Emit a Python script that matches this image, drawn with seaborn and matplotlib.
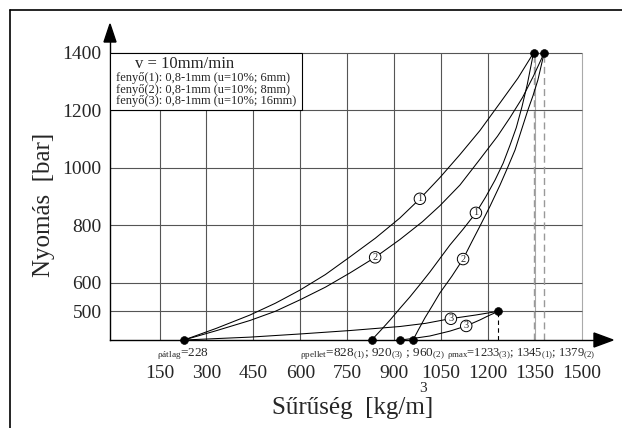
import matplotlib.pyplot as plt
import matplotlib.patches as mpatches
import matplotlib.lines as mlines
import numpy as np
import pandas as pd
import seaborn as sns

# values: density [kg/m3] vs pressure [bar]
load1_x = [228, 330, 439, 520, 599, 680, 759, 840, 918, 982, 1046, 1110, 1174, 1238, 1295, 1345]
load1_y = [400, 440, 487, 528, 574, 628, 690, 755, 825, 892, 966, 1046, 1130, 1226, 1312, 1400]
load2_x = [228, 330, 439, 520, 599, 680, 759, 839, 918, 990, 1046, 1110, 1174, 1230, 1270, 1310, 1345, 1379]
load2_y = [400, 432, 468, 500, 540, 584, 634, 688, 750, 812, 868, 940, 1030, 1110, 1175, 1245, 1320, 1400]
unload1_x = [1345, 1325, 1308, 1290, 1270, 1248, 1222, 1192, 1161, 1120, 1078, 1046, 1014, 982, 950, 918, 887, 858, 828]
unload1_y = [1400, 1290, 1212, 1140, 1079, 1016, 957, 898, 843, 786, 731, 684, 637, 593, 550, 510, 470, 435, 400]
unload2_x = [1379, 1359, 1343, 1327, 1306, 1286, 1262, 1238, 1206, 1174, 1146, 1120, 1084, 1046, 1022, 998, 978, 960]
unload2_y = [1400, 1306, 1250, 1201, 1130, 1062, 1000, 940, 866, 797, 738, 682, 622, 564, 520, 477, 437, 400]
load3_x = [228, 439, 599, 759, 918, 1000, 1078, 1160, 1233]
load3_y = [400, 410, 421, 433, 447, 458, 474, 487, 500]
unload3_x = [1233, 1200, 1174, 1130, 1078, 1014, 957, 920]
unload3_y = [500, 484, 470, 449, 431, 414, 405, 400]

dot_x = [228, 828, 920, 960, 1233, 1345, 1379]
dot_y = [400, 400, 400, 400, 500, 1400, 1400]

mark_x = [982, 839, 1161, 1120, 1081, 1130]
mark_y = [892, 688, 843, 682, 474, 449]
mark_txt = ['1', '2', '1', '2', '3', '3']

x_ticks = [150, 300, 450, 600, 750, 900, 1050, 1200, 1350, 1500]
y_ticks = [500, 600, 800, 1000, 1200, 1400]

legend_title = 'v = 10mm/min'
legend_lines = ['fenyő(1): 0,8-1mm (u=10%; 6mm)',
                'fenyő(2): 0,8-1mm (u=10%; 8mm)',
                'fenyő(3): 0,8-1mm (u=10%; 16mm)']

sns.set_style('white')
plt.rcParams['font.family'] = ['Liberation Serif', 'DejaVu Serif']
plt.rcParams['mathtext.fontset'] = 'custom'
plt.rcParams['mathtext.rm'] = 'Liberation Serif'
plt.rcParams['mathtext.it'] = 'Liberation Serif:italic'

W, H = 622, 428
fig = plt.figure(figsize=(W / 100, H / 100), dpi=100)


def fx(px):
    return px / W


def fy(py):
    return 1 - py / H


ax = fig.add_axes([fx(110), fy(340), (595 - 110) / W, (340 - 42) / H])
ax.set_xlim(-8.2, 1541.5)
ax.set_ylim(400, 1438.3)

# grid
grid_col = '#555555'
for xv in x_ticks:
    c = '#aaaaaa' if xv in (1350, 1500) else grid_col
    ax.vlines(xv, 400, 1400, color=c, lw=0.8, zorder=1)
for yv in y_ticks:
    ax.hlines(yv, -8.2, 1500, color=grid_col, lw=0.8, zorder=1)

# dashed drop lines
ax.vlines([1345, 1379], 400, 1400, color='#999999', lw=1.0, linestyles=(0, (5, 3)), zorder=2)
ax.vlines(1233, 400, 500, color='black', lw=0.8, linestyles=(0, (4, 3)), zorder=2)

frames = []
for name, xs, ys in [('load1', load1_x, load1_y), ('load2', load2_x, load2_y),
                     ('unload1', unload1_x, unload1_y), ('unload2', unload2_x, unload2_y),
                     ('load3', load3_x, load3_y), ('unload3', unload3_x, unload3_y)]:
    frames.append(pd.DataFrame({'x': xs, 'y': ys, 'curve': name}))
df = pd.concat(frames, ignore_index=True)

sns.lineplot(data=df, x='x', y='y', units='curve', estimator=None, sort=False,
             color='black', lw=0.75, ax=ax, legend=False, zorder=3)
sns.scatterplot(x=dot_x, y=dot_y, color='black', s=32, edgecolor='black',
                ax=ax, zorder=6, clip_on=False, legend=False)

for xv, yv, t in zip(mark_x, mark_y, mark_txt):
    ax.text(xv, yv, t, ha='center', va='center', fontsize=7.5, zorder=5,
            bbox=dict(boxstyle='circle,pad=0.12', fc='white', ec='black', lw=0.7))

# legend box
ax.add_patch(mpatches.Rectangle((-8.2, 1200), 613, 200, fc='white', ec='black',
                                lw=0.8, zorder=4))
fig.text(fx(135), fy(64), legend_title, fontsize=12, va='center', ha='left')
for i, line in enumerate(legend_lines):
    fig.text(fx(116), fy(78 + 11.5 * i), line, fontsize=9, va='center', ha='left')

ax.set_xticks(x_ticks)
ax.set_yticks(y_ticks)
ax.tick_params(axis='x', length=0, pad=18, labelsize=14)
ax.tick_params(axis='y', length=0, pad=6, labelsize=14)
ax.set_xlabel('')
ax.set_ylabel('')
for s in ['top', 'right']:
    ax.spines[s].set_visible(False)
for s in ['left', 'bottom']:
    ax.spines[s].set_color('black')
    ax.spines[s].set_linewidth(1.0)

# axis arrows
fig.add_artist(mpatches.Polygon([[fx(110), fy(24)], [fx(104), fy(42)], [fx(116), fy(42)]],
                                closed=True, fc='black', ec='black', transform=fig.transFigure))
fig.add_artist(mpatches.Polygon([[fx(613), fy(340)], [fx(594), fy(333)], [fx(594), fy(347)]],
                                closed=True, fc='black', ec='black', transform=fig.transFigure))

# frame lines
fig.add_artist(mlines.Line2D([fx(10), fx(622)], [fy(9.5), fy(9.5)], color='black', lw=1.2))
fig.add_artist(mlines.Line2D([fx(10), fx(10)], [fy(9.5), 0], color='black', lw=1.2))

# density annotations under the axis
fig.text(fx(157), fy(356), r'${}_{\mathrm{ρátlag}}$=228', fontsize=9.5, va='baseline')
fig.text(fx(300), fy(356),
         r'${}_{\mathrm{ρpellet}}$=828${}_{(1)}$; 920${}_{(3)}$ ; 960${}_{(2)}$',
         fontsize=9.5, va='baseline')
fig.text(fx(447), fy(356),
         r'${}_{\mathrm{ρmax}}$=1233${}_{(3)}$; 1345${}_{(1)}$; 1379${}_{(2)}$',
         fontsize=9, va='baseline')

fig.text(fx(44), fy(205), 'Nyomás  [bar]', rotation=90, fontsize=18, ha='center', va='center')
fig.text(fx(353), fy(414), 'Sűrűség  [kg/m]', fontsize=18, ha='center', va='baseline')
fig.text(fx(423), fy(389), '3', fontsize=11, ha='center', va='center')

fig.savefig('out.png', dpi=100, facecolor='white')
